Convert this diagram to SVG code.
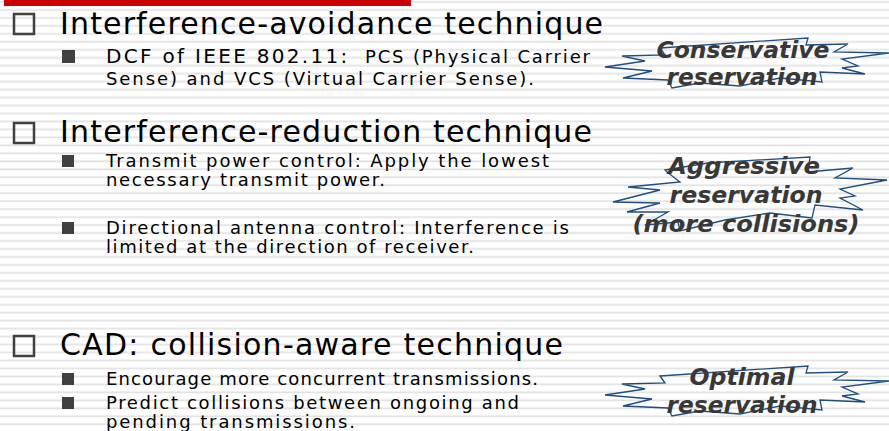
<svg xmlns="http://www.w3.org/2000/svg" width="889" height="431" viewBox="0 0 889 431">
<style>
.h{font-family:"DejaVu Sans","Liberation Sans",sans-serif;font-size:30px;fill:#000}
.b{font-family:"DejaVu Sans","Liberation Sans",sans-serif;font-size:18px;fill:#000}
.bl{font-family:"DejaVu Sans","Liberation Sans",sans-serif;font-size:20px;fill:#000}
.c{font-family:"DejaVu Sans","Liberation Sans",sans-serif;font-size:23px;font-weight:bold;font-style:italic;fill:#383838;text-anchor:middle}
.box{fill:none;stroke:#404040;stroke-width:2.5}
.sq{fill:#404040}
.burst{fill:none;stroke:#1f4e7f;stroke-width:1.3;stroke-linejoin:miter}
</style>
<defs>
<pattern id="stripes" patternUnits="userSpaceOnUse" x="0" y="0.7" width="889" height="7.967">
<rect x="0" y="0" width="889" height="1" fill="#eeeeee"/>
<rect x="0" y="1" width="889" height="1.2" fill="#e2e2e2"/>
</pattern>
<path id="burstA" d="M 660,48 L 808,38 L 806,45 L 848,44 L 834,52 L 889,53 L 842,59 L 858,66 L 842,68 L 865,74 L 820,72 L 822,82 L 780,78 L 740,86 L 700,83 L 672,88 L 668,80 L 623,78 L 652,71 L 605,67 L 645,61 L 622,56 L 665,55 Z"/>
</defs>
<rect width="889" height="431" fill="#ffffff"/>
<rect width="889" height="431" fill="url(#stripes)"/>
<rect x="4" y="0" width="407" height="6" fill="#cc0000"/>

<g id="item-avoidance">
<rect class="box" x="14" y="14" width="20" height="20"/>
<text class="h" x="60" y="34" textLength="543" lengthAdjust="spacing">Interference-avoidance technique</text>
</g>
<g id="sub-dcf">
<rect class="sq" x="62" y="50" width="13" height="13"/>
<text x="106" y="63"><tspan class="bl" textLength="250" lengthAdjust="spacing">DCF of IEEE 802.11: </tspan><tspan class="b" x="365" textLength="225" lengthAdjust="spacing">PCS (Physical Carrier</tspan></text>
<text class="b" x="106" y="85" textLength="428" lengthAdjust="spacing">Sense) and VCS (Virtual Carrier Sense).</text>
</g>

<g id="item-reduction">
<rect class="box" x="14" y="123" width="20" height="20"/>
<text class="h" x="60" y="142" textLength="532" lengthAdjust="spacing">Interference-reduction technique</text>
</g>
<g id="sub-power">
<rect class="sq" x="62" y="155" width="12" height="12"/>
<text class="b" x="106" y="167" textLength="443" lengthAdjust="spacing">Transmit power control: Apply the lowest</text>
<text class="b" x="106" y="186" textLength="279" lengthAdjust="spacing">necessary transmit power.</text>
</g>
<g id="sub-directional">
<rect class="sq" x="62" y="222" width="12" height="12"/>
<text class="b" x="106" y="234" textLength="463" lengthAdjust="spacing">Directional antenna control: Interference is</text>
<text class="b" x="106" y="253" textLength="368" lengthAdjust="spacing">limited at the direction of receiver.</text>
</g>

<g id="item-cad">
<rect class="box" x="14" y="336" width="20" height="20"/>
<text class="h" x="60" y="355" textLength="503" lengthAdjust="spacing">CAD: collision-aware technique</text>
</g>
<g id="sub-encourage">
<rect class="sq" x="62" y="373" width="12" height="12"/>
<text class="b" x="106" y="385" textLength="432" lengthAdjust="spacing">Encourage more concurrent transmissions.</text>
</g>
<g id="sub-predict">
<rect class="sq" x="62" y="397" width="12" height="12"/>
<text class="b" x="106" y="409" textLength="413" lengthAdjust="spacing">Predict collisions between ongoing and</text>
<text class="b" x="106" y="428" textLength="249" lengthAdjust="spacing">pending transmissions.</text>
</g>

<g id="callout-conservative">
<use href="#burstA" class="burst"/>
<text class="c" x="743" y="58" textLength="173" lengthAdjust="spacingAndGlyphs">Conservative</text>
<text class="c" x="742" y="85" textLength="151" lengthAdjust="spacingAndGlyphs">reservation</text>
</g>
<g id="callout-aggressive">
<path class="burst" d="M 665,170 L 708,163 L 810,157 L 808,172 L 853,168 L 835,178 L 887,180 L 840,189 L 855,196 L 840,198 L 863,210 L 815,205 L 812,218 L 770,213 L 725,220 L 680,231 L 678,222 L 645,225 L 668,212 L 627,212 L 660,203 L 613,202 L 660,190 L 628,187 L 680,182 L 667,172 Z"/>
<text class="c" x="744" y="174" textLength="152" lengthAdjust="spacingAndGlyphs">Aggressive</text>
<text class="c" x="746" y="203" textLength="153" lengthAdjust="spacingAndGlyphs">reservation</text>
<text class="c" x="746" y="232" textLength="227" lengthAdjust="spacingAndGlyphs">(more collisions)</text>
</g>
<g id="callout-optimal">
<use href="#burstA" class="burst" transform="translate(0,328)"/>
<text class="c" x="742" y="385" textLength="105" lengthAdjust="spacingAndGlyphs">Optimal</text>
<text class="c" x="742" y="413" textLength="151" lengthAdjust="spacingAndGlyphs">reservation</text>
</g>
</svg>
